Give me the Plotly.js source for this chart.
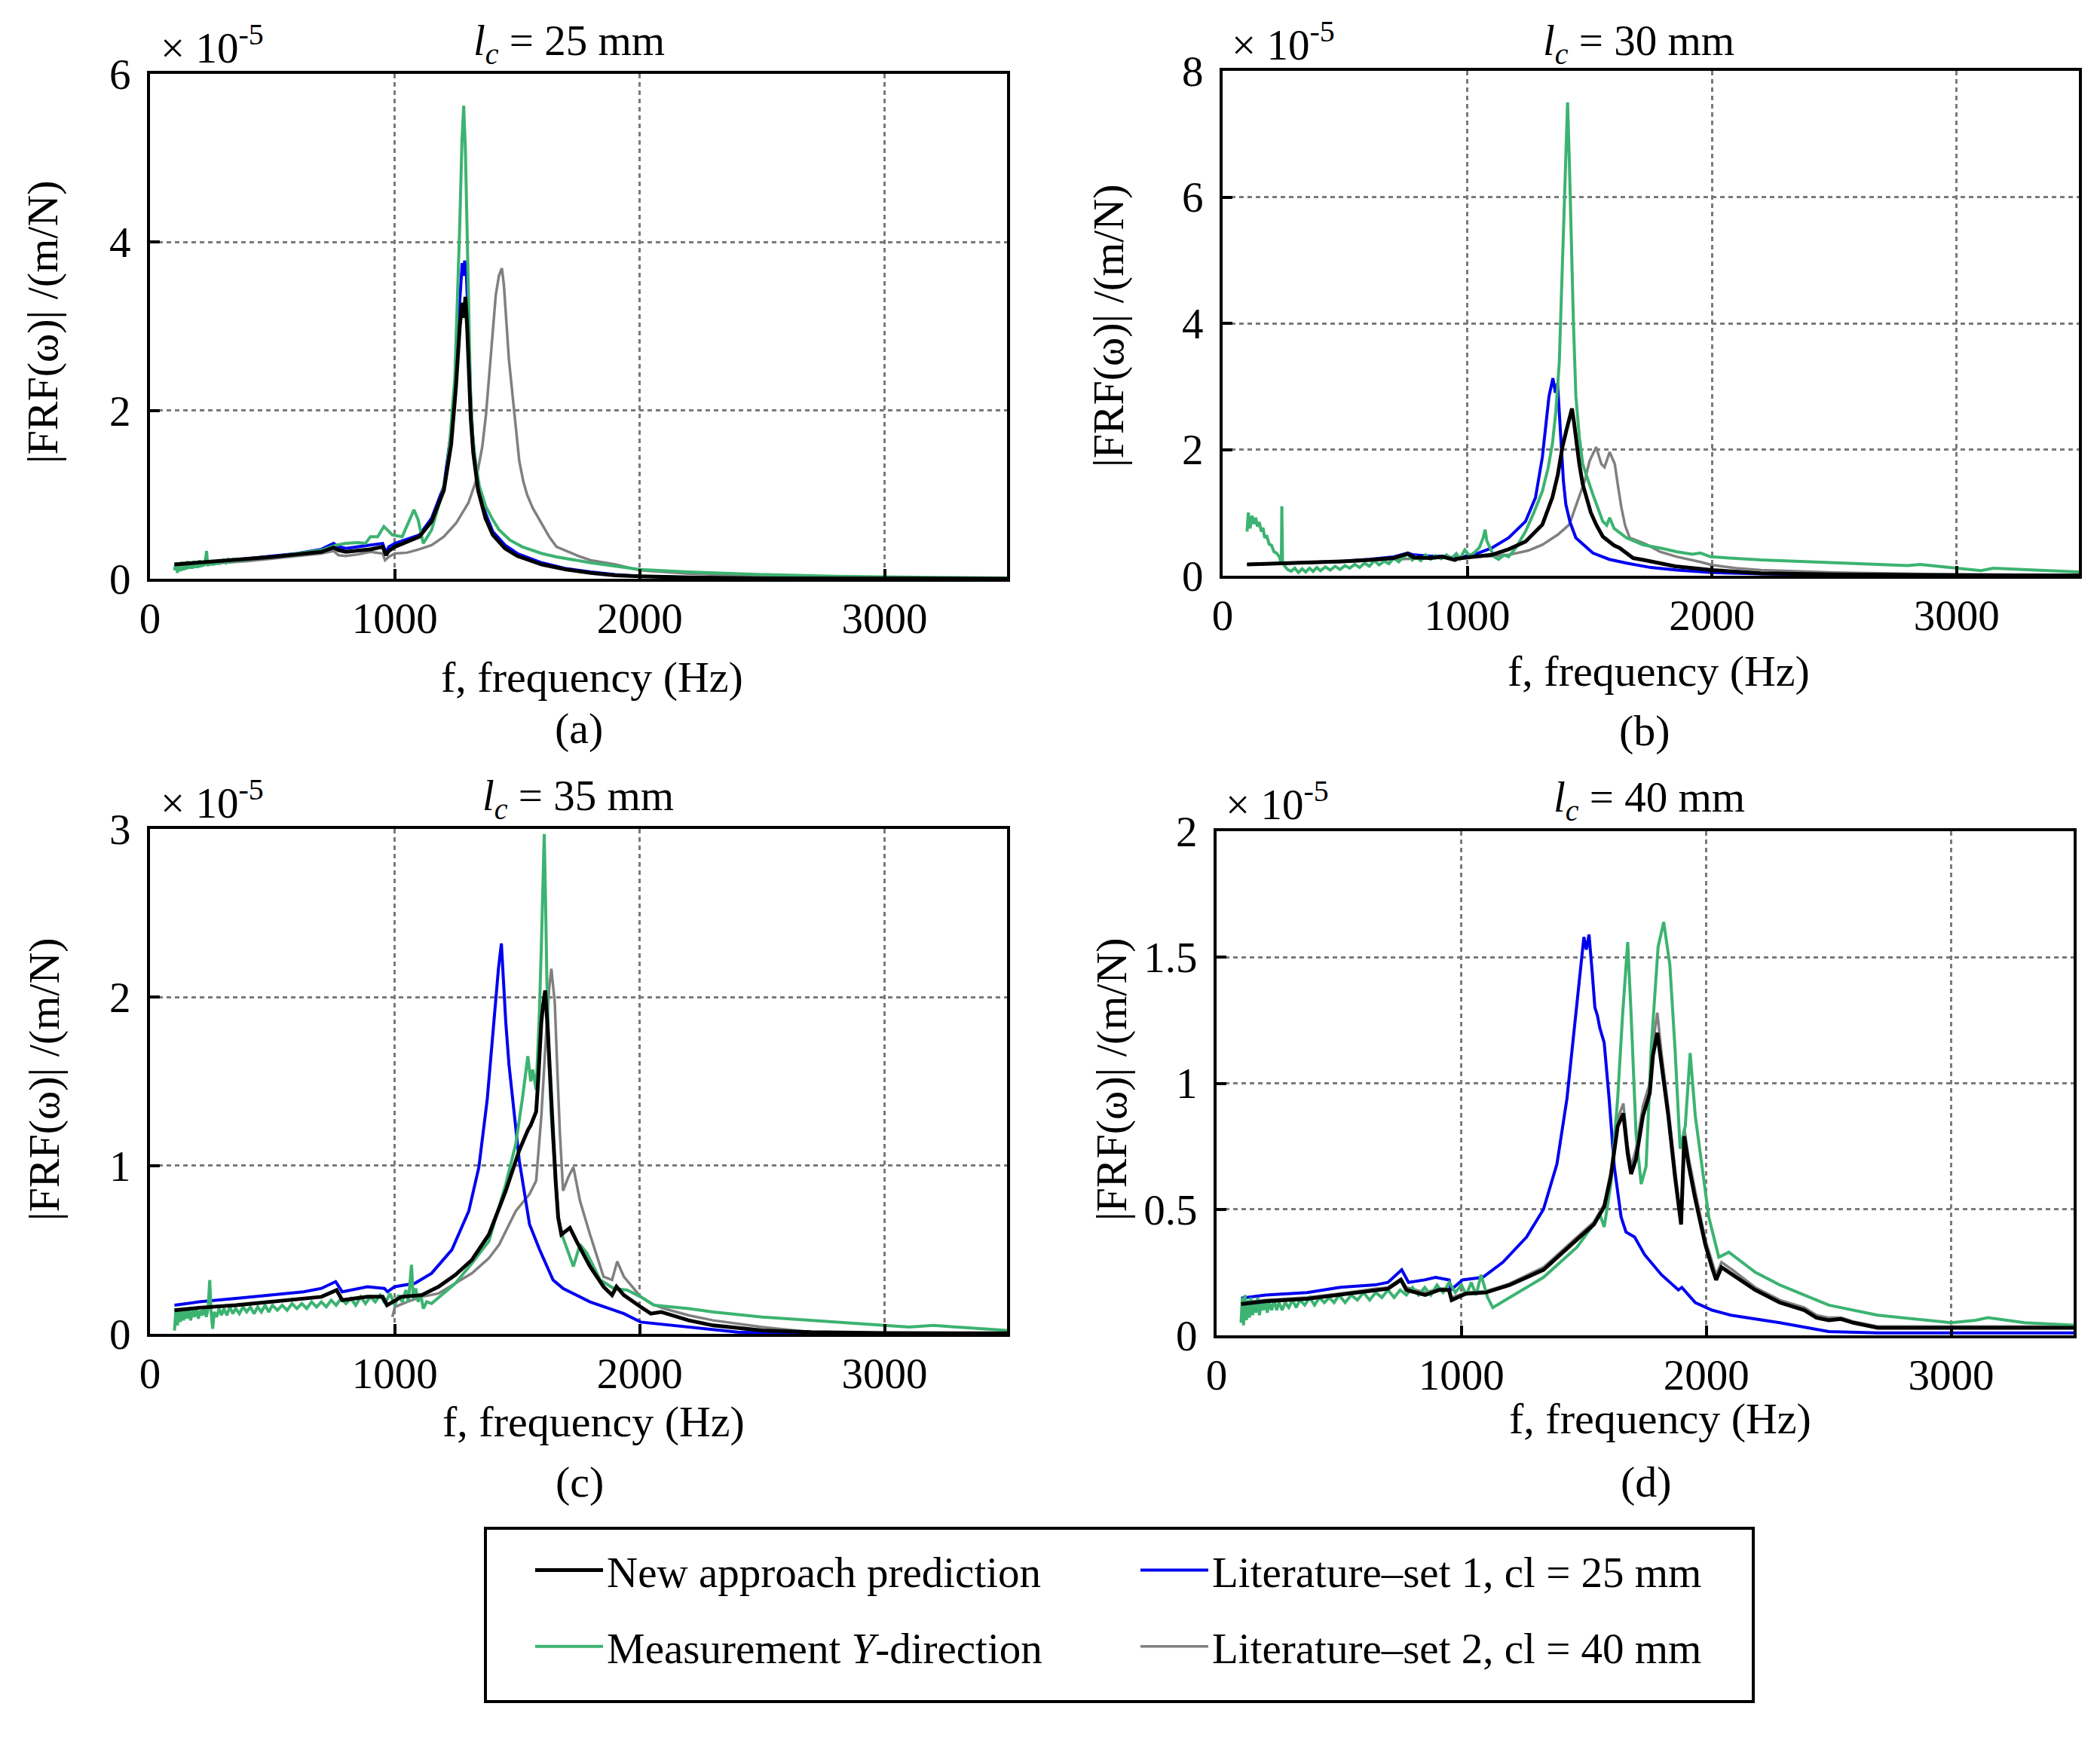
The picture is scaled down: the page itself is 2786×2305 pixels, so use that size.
<!DOCTYPE html>
<html>
<head>
<meta charset="utf-8">
<script src="https://cdn.plot.ly/plotly-3.0.1.min.js"></script>
<style>html,body{margin:0;padding:0;background:#fff;}#chart{width:2786px;height:2305px;}</style>
</head>
<body>
<div id="chart"></div>
<script>
// ---------- DATA (FRF magnitude in units of 1e-5 m/N, frequency in Hz) ----------
const panelTitles = ["25", "30", "35", "40"];
const panelLetters = ["(a)", "(b)", "(c)", "(d)"];
const yMax = [6, 8, 3, 2];
const yDtick = [2, 2, 1, 0.5];
const seriesNames = ["New approach prediction", "Measurement <i>Y</i>-direction",
                     "Literature\u2013set 1, cl = 25 mm", "Literature\u2013set 2, cl = 40 mm"];

// Panel (a) lc = 25 mm
const a_black_f = [100,200,300,400,500,600,700,750,770,800,850,900,950,964,975,1000,1050,1100,1150,1200,1230,1250,1265,1275,1282,1288,1295,1302,1310,1320,1340,1370,1400,1450,1500,1600,1700,1800,1900,2000,2200,2500,3000,3500];
const a_black_y = [0.17,0.19,0.21,0.23,0.26,0.29,0.32,0.37,0.34,0.32,0.33,0.35,0.38,0.28,0.33,0.38,0.44,0.50,0.68,1.05,1.6,2.3,3.0,3.28,3.1,3.35,3.0,2.4,1.9,1.5,1.05,0.72,0.52,0.36,0.27,0.17,0.11,0.07,0.04,0.03,0.015,0.005,0.002,0.001];
const a_blue_f = [100,200,300,400,500,600,700,750,770,800,850,900,950,964,975,1000,1050,1100,1150,1200,1230,1250,1265,1275,1280,1285,1292,1300,1310,1320,1340,1370,1400,1450,1500,1600,1700,1800,1900,2000,2200,2500,3000,3500];
const a_blue_y = [0.17,0.19,0.21,0.24,0.27,0.30,0.35,0.42,0.38,0.36,0.38,0.40,0.42,0.31,0.38,0.42,0.47,0.52,0.72,1.1,1.75,2.5,3.3,3.75,3.6,3.78,3.65,2.9,2.1,1.6,1.1,0.78,0.56,0.40,0.30,0.19,0.12,0.08,0.05,0.03,0.015,0.005,0.002,0.001];
const a_green_f = [100,106,112,118,124,130,136,142,148,154,160,166,172,178,184,190,196,202,208,214,220,226,231,236,242,248,254,260,266,272,278,284,290,300,310,320,330,340,350,360,380,400,500,600,700,760,800,850,880,900,930,955,970,990,1030,1060,1078,1095,1116,1150,1190,1210,1225,1245,1255,1265,1274,1281,1288,1295,1302,1309,1318,1329,1345,1371,1400,1426,1470,1520,1600,1660,1800,1900,2000,2200,2500,2800,3000,3200,3500];
const a_green_y = [0.10,0.19,0.07,0.18,0.09,0.20,0.10,0.19,0.11,0.21,0.12,0.19,0.12,0.21,0.13,0.20,0.13,0.22,0.14,0.20,0.15,0.21,0.33,0.15,0.21,0.16,0.22,0.16,0.21,0.17,0.22,0.17,0.21,0.22,0.19,0.23,0.20,0.23,0.21,0.23,0.22,0.23,0.26,0.30,0.34,0.40,0.42,0.43,0.42,0.50,0.50,0.62,0.58,0.52,0.50,0.70,0.82,0.70,0.42,0.58,0.98,1.25,1.65,2.4,3.2,4.2,5.2,5.62,5.1,4.2,3.1,2.2,1.7,1.4,1.1,0.86,0.70,0.58,0.46,0.38,0.30,0.26,0.19,0.15,0.11,0.08,0.05,0.03,0.02,0.015,0.01];
const a_gray_f = [100,200,300,400,500,600,700,750,770,800,850,900,950,960,975,1000,1050,1100,1150,1200,1250,1300,1330,1357,1372,1384,1400,1412,1425,1437,1445,1453,1466,1481,1495,1508,1525,1540,1563,1591,1630,1660,1700,1750,1800,1860,1900,2000,2200,2500,3000,3500];
const a_gray_y = [0.15,0.17,0.19,0.21,0.24,0.27,0.30,0.33,0.28,0.27,0.29,0.32,0.30,0.22,0.26,0.30,0.31,0.35,0.40,0.50,0.66,0.90,1.15,1.57,1.95,2.37,2.9,3.37,3.6,3.69,3.5,3.17,2.6,2.17,1.75,1.4,1.15,1.0,0.84,0.70,0.50,0.38,0.33,0.27,0.22,0.19,0.17,0.10,0.06,0.03,0.01,0.005];

// Panel (b) lc = 30 mm
const b_black_f = [100,200,300,400,500,600,700,757,780,850,900,949,960,1000,1050,1100,1169,1238,1307,1348,1370,1389,1405,1417,1428,1437,1447,1458,1472,1486,1505,1527,1554,1600,1623,1650,1678,1720,1788,1850,1926,2000,2200,2500,3000,3500];
const b_black_y = [0.18,0.19,0.20,0.21,0.23,0.25,0.28,0.35,0.29,0.28,0.30,0.25,0.27,0.29,0.31,0.33,0.42,0.54,0.81,1.24,1.6,2.04,2.3,2.46,2.65,2.41,2.1,1.77,1.45,1.24,1.0,0.81,0.62,0.48,0.44,0.36,0.28,0.25,0.20,0.15,0.12,0.09,0.04,0.02,0.008,0.004];
const b_blue_f = [100,200,300,400,500,600,700,757,780,850,900,949,960,1000,1032,1100,1169,1238,1279,1307,1320,1334,1350,1360,1369,1376,1383,1393,1403,1420,1444,1513,1580,1651,1750,1857,2000,2200,2500,3000,3500];
const b_blue_y = [0.18,0.19,0.20,0.21,0.23,0.26,0.30,0.36,0.33,0.31,0.31,0.28,0.27,0.32,0.34,0.44,0.60,0.86,1.24,1.88,2.3,2.84,3.13,2.9,3.05,2.6,2.04,1.5,1.13,0.85,0.60,0.36,0.26,0.20,0.13,0.09,0.05,0.03,0.015,0.005,0.002];
const b_green_f = [100,105,112,120,128,135,142,150,158,165,172,180,190,200,210,220,232,240,242,245,255,265,280,295,310,325,340,355,370,385,400,420,440,460,480,500,520,540,560,580,600,620,640,660,680,700,720,740,757,775,790,810,830,850,870,894,915,935,955,970,990,1010,1032,1050,1065,1073,1080,1094,1110,1128,1150,1169,1200,1238,1270,1307,1330,1348,1362,1376,1386,1396,1403,1410,1417,1424,1434,1444,1458,1472,1513,1554,1570,1582,1600,1651,1719,1800,1857,1920,1953,1994,2100,2200,2400,2600,2800,2850,3000,3100,3150,3300,3500];
const b_green_y = [0.70,1.0,0.75,0.95,0.82,0.92,0.78,0.85,0.70,0.76,0.60,0.64,0.50,0.48,0.38,0.36,0.30,0.18,1.10,0.20,0.15,0.10,0.07,0.12,0.05,0.11,0.06,0.12,0.07,0.13,0.08,0.14,0.09,0.15,0.10,0.16,0.12,0.18,0.13,0.20,0.15,0.24,0.17,0.23,0.19,0.28,0.22,0.30,0.34,0.25,0.30,0.24,0.33,0.26,0.32,0.27,0.33,0.27,0.35,0.27,0.41,0.31,0.38,0.45,0.60,0.73,0.55,0.44,0.30,0.26,0.33,0.30,0.45,0.70,0.98,1.34,1.7,2.09,2.6,3.37,4.6,6.04,7.0,7.50,6.6,5.50,4.0,2.84,2.2,1.77,1.29,0.86,0.80,0.92,0.75,0.60,0.49,0.43,0.38,0.34,0.36,0.30,0.27,0.25,0.22,0.19,0.16,0.18,0.12,0.08,0.12,0.09,0.06];
const b_gray_f = [100,300,500,700,800,900,1000,1100,1169,1250,1307,1370,1417,1458,1480,1500,1527,1548,1561,1582,1603,1615,1630,1645,1664,1706,1730,1788,1857,1950,2000,2100,2200,2500,3000,3500];
const b_gray_y = [0.18,0.20,0.22,0.26,0.27,0.28,0.29,0.31,0.33,0.40,0.49,0.65,0.81,1.24,1.5,1.82,2.04,1.77,1.72,1.96,1.77,1.45,1.08,0.8,0.60,0.54,0.50,0.38,0.30,0.22,0.17,0.12,0.09,0.05,0.02,0.01];

// Panel (c) lc = 35 mm
const c_black_f = [100,200,351,500,627,700,762,785,888,950,968,1026,1109,1178,1247,1315,1384,1453,1508,1530,1543,1555,1570,1577,1585,1591,1598,1605,1614,1625,1635,1646,1657,1667,1680,1715,1742,1797,1852,1887,1905,1935,2004,2045,2087,2200,2300,2500,2700,3000,3500];
const c_black_y = [0.14,0.155,0.17,0.19,0.21,0.22,0.26,0.20,0.22,0.22,0.17,0.22,0.23,0.28,0.35,0.44,0.59,0.85,1.09,1.17,1.21,1.24,1.29,1.32,1.5,1.69,1.85,1.95,2.04,1.79,1.45,1.19,0.9,0.69,0.59,0.63,0.55,0.40,0.28,0.23,0.28,0.23,0.16,0.12,0.13,0.08,0.05,0.02,0.01,0.005,0.003];
const c_blue_f = [100,200,351,500,627,700,758,785,850,888,957,970,999,1081,1150,1233,1302,1343,1377,1405,1423,1435,1443,1453,1466,1481,1508,1550,1591,1646,1687,1797,1935,2004,2200,2400,2600,3000,3500];
const c_blue_y = [0.17,0.19,0.21,0.23,0.25,0.27,0.31,0.25,0.27,0.28,0.27,0.25,0.28,0.30,0.36,0.50,0.73,0.99,1.39,1.89,2.17,2.32,2.1,1.85,1.6,1.39,1.03,0.65,0.50,0.32,0.27,0.19,0.12,0.07,0.04,0.01,0.003,0.001,0.001];
const c_green_f = [100,106,112,118,124,130,137,144,151,158,166,174,182,190,198,206,214,222,230,237,244,250,256,262,272,282,292,302,314,326,338,350,365,380,395,410,425,440,455,470,485,500,520,540,560,580,600,620,640,660,680,700,720,740,760,780,800,820,840,860,880,900,920,940,960,980,1000,1015,1030,1045,1055,1068,1075,1085,1095,1105,1116,1130,1150,1200,1247,1315,1384,1453,1494,1522,1543,1555,1563,1577,1590,1598,1604,1610,1615,1621,1630,1639,1667,1687,1729,1756,1784,1839,1894,1949,2004,2059,2200,2300,2500,2800,3000,3100,3200,3300,3500];
const c_green_y = [0.02,0.15,0.05,0.14,0.07,0.15,0.08,0.14,0.09,0.15,0.08,0.14,0.10,0.15,0.09,0.14,0.11,0.16,0.10,0.15,0.32,0.12,0.03,0.13,0.10,0.15,0.11,0.15,0.11,0.16,0.12,0.15,0.12,0.16,0.13,0.16,0.12,0.16,0.13,0.17,0.13,0.17,0.14,0.17,0.14,0.18,0.15,0.18,0.15,0.19,0.16,0.19,0.16,0.20,0.17,0.21,0.18,0.21,0.17,0.22,0.18,0.22,0.19,0.23,0.18,0.24,0.17,0.23,0.19,0.26,0.19,0.41,0.21,0.27,0.19,0.24,0.15,0.19,0.18,0.24,0.30,0.42,0.55,0.89,1.13,1.41,1.65,1.50,1.57,1.45,1.9,2.29,2.65,2.97,2.6,2.09,1.6,1.29,0.69,0.57,0.40,0.53,0.48,0.32,0.27,0.26,0.22,0.17,0.15,0.13,0.10,0.07,0.05,0.04,0.05,0.04,0.02];
const c_gray_f = [990,1000,1050,1109,1178,1247,1315,1384,1426,1494,1550,1577,1598,1618,1630,1639,1653,1664,1674,1687,1708,1729,1756,1797,1852,1887,1908,1935,2004,2045,2100,2200,2300,2500,2700,3000,3500];
const c_gray_y = [0.10,0.16,0.19,0.22,0.24,0.30,0.36,0.45,0.53,0.73,0.83,0.91,1.29,1.79,2.05,2.17,1.97,1.55,1.19,0.85,0.93,0.99,0.79,0.59,0.34,0.32,0.43,0.34,0.22,0.18,0.15,0.11,0.08,0.04,0.01,0.005,0.003];

// Panel (d) lc = 40 mm
const d_black_f = [100,200,370,500,647,700,753,775,852,908,949,960,1018,1100,1197,1335,1472,1541,1583,1610,1638,1661,1679,1693,1713,1741,1769,1782,1800,1817,1845,1872,1886,1897,1910,1927,1955,1996,2023,2040,2062,2106,2200,2300,2400,2450,2500,2550,2600,2700,3000,3500];
const d_black_y = [0.124,0.135,0.145,0.16,0.18,0.185,0.22,0.18,0.16,0.18,0.18,0.14,0.165,0.17,0.20,0.26,0.38,0.44,0.51,0.63,0.83,0.88,0.72,0.64,0.70,0.87,0.96,1.11,1.20,1.08,0.87,0.63,0.51,0.44,0.79,0.68,0.54,0.36,0.27,0.22,0.27,0.24,0.18,0.13,0.10,0.07,0.06,0.065,0.05,0.03,0.03,0.03];
const d_blue_f = [100,200,370,500,647,700,756,784,850,894,950,957,1004,1087,1169,1266,1335,1390,1431,1459,1479,1500,1510,1521,1534,1545,1555,1565,1583,1603,1624,1652,1672,1707,1748,1817,1886,1900,1955,2023,2100,2300,2500,2700,3000,3500];
const d_blue_y = [0.147,0.16,0.17,0.19,0.20,0.21,0.26,0.21,0.22,0.23,0.22,0.18,0.22,0.23,0.29,0.39,0.50,0.68,0.94,1.20,1.38,1.58,1.53,1.59,1.44,1.30,1.27,1.22,1.16,0.94,0.67,0.47,0.41,0.39,0.32,0.24,0.18,0.19,0.13,0.10,0.08,0.05,0.015,0.01,0.01,0.01];
const d_green_f = [100,105,110,116,122,128,134,140,147,154,161,168,175,183,191,199,207,215,225,235,245,255,268,280,295,310,325,340,360,380,400,420,440,460,480,500,525,550,575,600,625,650,675,700,725,750,775,800,825,850,875,900,925,950,975,1000,1020,1040,1060,1080,1095,1107,1128,1160,1197,1335,1472,1540,1555,1565,1583,1610,1638,1658,1679,1693,1713,1734,1754,1775,1803,1826,1851,1872,1893,1914,1934,1955,1982,2010,2051,2092,2200,2300,2500,2700,3000,3100,3150,3300,3500];
const d_green_y = [0.05,0.15,0.04,0.16,0.06,0.14,0.07,0.15,0.08,0.13,0.09,0.15,0.08,0.13,0.10,0.14,0.09,0.13,0.10,0.14,0.10,0.13,0.10,0.13,0.11,0.14,0.11,0.14,0.12,0.15,0.12,0.15,0.13,0.15,0.13,0.16,0.13,0.16,0.14,0.17,0.14,0.17,0.15,0.18,0.15,0.18,0.16,0.19,0.16,0.19,0.16,0.20,0.17,0.21,0.17,0.20,0.16,0.21,0.16,0.24,0.19,0.15,0.11,0.13,0.15,0.23,0.35,0.44,0.47,0.48,0.43,0.60,0.94,1.27,1.56,1.27,0.80,0.60,0.67,1.14,1.54,1.64,1.47,1.14,0.74,0.83,1.12,0.87,0.67,0.47,0.31,0.33,0.25,0.20,0.12,0.08,0.05,0.06,0.07,0.05,0.04];
const d_gray_f = [100,200,370,500,647,700,753,775,852,908,949,960,1018,1100,1197,1335,1472,1541,1583,1610,1638,1661,1679,1693,1713,1741,1769,1782,1800,1817,1845,1872,1886,1897,1910,1927,1955,1996,2023,2040,2062,2106,2200,2300,2400,2450,2500,2550,2600,2700,3000,3500];
const d_gray_y = [0.13,0.14,0.15,0.165,0.185,0.19,0.225,0.19,0.17,0.185,0.185,0.15,0.17,0.175,0.205,0.27,0.39,0.45,0.52,0.65,0.86,0.92,0.75,0.67,0.74,0.91,1.00,1.16,1.28,1.12,0.90,0.66,0.54,0.47,0.82,0.71,0.57,0.38,0.29,0.24,0.29,0.26,0.19,0.14,0.11,0.08,0.07,0.07,0.055,0.035,0.035,0.035];

const panels = [
  {black:[a_black_f,a_black_y], green:[a_green_f,a_green_y], blue:[a_blue_f,a_blue_y], gray:[a_gray_f,a_gray_y]},
  {black:[b_black_f,b_black_y], green:[b_green_f,b_green_y], blue:[b_blue_f,b_blue_y], gray:[b_gray_f,b_gray_y]},
  {black:[c_black_f,c_black_y], green:[c_green_f,c_green_y], blue:[c_blue_f,c_blue_y], gray:[c_gray_f,c_gray_y]},
  {black:[d_black_f,d_black_y], green:[d_green_f,d_green_y], blue:[d_blue_f,d_blue_y], gray:[d_gray_f,d_gray_y]}
];

// ---------- LAYOUT HELPERS ----------
const W = 2786, H = 2305;
const px = v => v / W;
const py = v => 1 - v / H;
const FONT = "Liberation Serif, Times New Roman, serif";

// plot frames in pixels: [left, right, top, bottom]
const frames = [[199,1336,98,768],[1622,2758,94,764],[199,1336,1100,1770],[1614,2751,1103,1772]];
const titlePos = [[755,58],[2174,58],[767,1060],[2188,1062]];
const expPos = [[281,59],[1702,55],[281,1061],[1694,1063]];
const xTitlePos = [[786,898],[2200,891],[787,1886],[2202,1882]];
const letterPos = [[768,966],[2182,969],[769,1966],[2184,1966]];
const yTitlePos = [[57,427],[1470,432],[58,1432],[1474,1432]];

const styles = {
  gray:  {color:'#808080', width:3.5, name:seriesNames[3], legend:'legend2', rank:2},
  blue:  {color:'#0000f0', width:4,   name:seriesNames[2], legend:'legend2', rank:1},
  green: {color:'#3cb371', width:4,   name:seriesNames[1], legend:'legend',  rank:2},
  black: {color:'#000000', width:5,   name:seriesNames[0], legend:'legend',  rank:1}
};
const drawOrder = ['gray','blue','green','black'];

const data = [];
panels.forEach((p, i) => {
  const sfx = i === 0 ? '' : String(i + 1);
  drawOrder.forEach(key => {
    const s = styles[key];
    data.push({
      type:'scatter', mode:'lines',
      x:p[key][0], y:p[key][1],
      xaxis:'x'+sfx, yaxis:'y'+sfx,
      name:s.name, legend:s.legend, legendrank:s.rank, legendgroup:key,
      showlegend: i === 0,
      line:{color:s.color, width:s.width},
      hoverinfo:'x+y'
    });
  });
});

const legendFont = {family:FONT, size:57, color:'#000'};
const layout = {
  width:W, height:H,
  margin:{l:0,r:0,t:0,b:0},
  paper_bgcolor:'#ffffff', plot_bgcolor:'#ffffff',
  font:{family:FONT, size:57, color:'#000'},
  showlegend:true,
  legend:{x:px(705), y:py(2040), xanchor:'left', yanchor:'top', orientation:'v', itemwidth:90,
          tracegroupgap:24, bgcolor:'rgba(0,0,0,0)', borderwidth:0, font:legendFont},
  legend2:{x:px(1508), y:py(2040), xanchor:'left', yanchor:'top', orientation:'v', itemwidth:90,
          tracegroupgap:24, bgcolor:'rgba(0,0,0,0)', borderwidth:0, font:legendFont},
  shapes:[{type:'rect', xref:'paper', yref:'paper',
           x0:px(644), x1:px(2326), y0:py(2258), y1:py(2028),
           line:{color:'#000', width:4}, fillcolor:'rgba(0,0,0,0)'}],
  annotations:[]
};

frames.forEach((f, i) => {
  const sfx = i === 0 ? '' : String(i + 1);
  layout['xaxis'+sfx] = {
    domain:[px(f[0]), px(f[1])], anchor:'y'+sfx,
    range:[0,3500], tickmode:'linear', tick0:0, dtick:1000,
    showline:true, linecolor:'#000', linewidth:4, mirror:true,
    ticks:'inside', ticklen:13, tickwidth:4, tickcolor:'#000',
    showgrid:true, gridcolor:'#7a7a7a', gridwidth:3, griddash:'6px,5px',
    zeroline:false, ticklabelstandoff:0,
    tickfont:{family:FONT, size:57, color:'#000'}
  };
  layout['yaxis'+sfx] = {
    domain:[py(f[3]), py(f[2])], anchor:'x'+sfx,
    range:[0,yMax[i]], tickmode:'linear', tick0:0, dtick:yDtick[i],
    showline:true, linecolor:'#000', linewidth:4, mirror:true,
    ticks:'inside', ticklen:13, tickwidth:4, tickcolor:'#000',
    showgrid:true, gridcolor:'#7a7a7a', gridwidth:3, griddash:'6px,5px',
    zeroline:false, ticklabelstandoff:10,
    tickfont:{family:FONT, size:57, color:'#000'}
  };
  layout.annotations.push(
    {text:'<i>l</i><sub><i>c</i></sub> = ' + panelTitles[i] + ' mm', xref:'paper', yref:'paper',
     x:px(titlePos[i][0]), y:py(titlePos[i][1]), xanchor:'center', yanchor:'middle',
     showarrow:false, font:{family:FONT, size:57, color:'#000'}},
    {text:'\u00d7 10<sup>-5</sup>', xref:'paper', yref:'paper',
     x:px(expPos[i][0]), y:py(expPos[i][1]), xanchor:'center', yanchor:'middle',
     showarrow:false, font:{family:FONT, size:57, color:'#000'}},
    {text:'f, frequency (Hz)', xref:'paper', yref:'paper',
     x:px(xTitlePos[i][0]), y:py(xTitlePos[i][1]), xanchor:'center', yanchor:'middle',
     showarrow:false, font:{family:FONT, size:58, color:'#000'}},
    {text:panelLetters[i], xref:'paper', yref:'paper',
     x:px(letterPos[i][0]), y:py(letterPos[i][1]), xanchor:'center', yanchor:'middle',
     showarrow:false, font:{family:FONT, size:58, color:'#000'}},
    {text:'|FRF(\u03c9)| /(m/N)', xref:'paper', yref:'paper', textangle:-90,
     x:px(yTitlePos[i][0]), y:py(yTitlePos[i][1]), xanchor:'center', yanchor:'middle',
     showarrow:false, font:{family:FONT, size:58, color:'#000'}}
  );
});

Plotly.newPlot('chart', data, layout, {staticPlot:true, displayModeBar:false});
</script>
</body>
</html>
